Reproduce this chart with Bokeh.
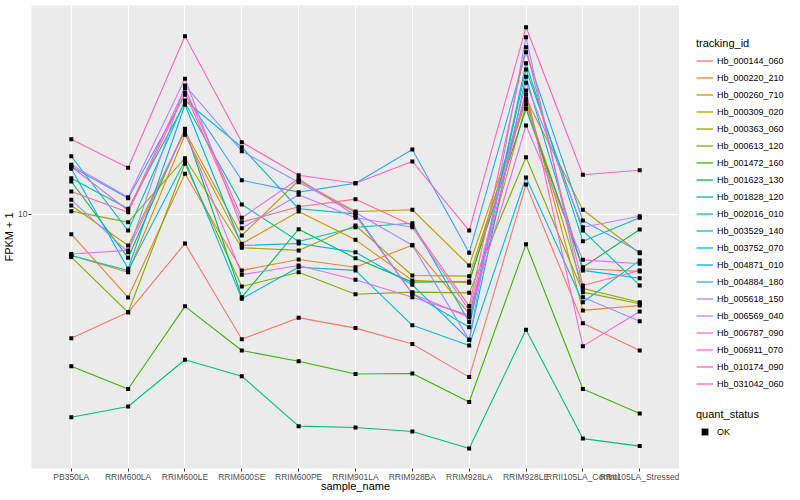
from bokeh.plotting import figure
from bokeh.layouts import row
from bokeh.models import (FactorRange, Range1d, FixedTicker, BasicTickFormatter,
                          Legend, LegendItem)
from bokeh.embed import file_html
from bokeh.resources import INLINE

samples = ["PB350LA", "RRIM600LA", "RRIM600LE", "RRIM600SE", "RRIM600PE",
           "RRIM901LA", "RRIM928BA", "RRIM928LA", "RRIM928LE",
           "RRII105LA_Control", "RRII105LA_Stressed"]

hb_000144_060 = [3.87, 4.72, 8.00, 3.84, 4.53, 4.18, 3.70, 2.87, 12.59, 4.34, 3.52]
hb_000220_210 = [8.60, 5.29, 13.67, 6.51, 7.08, 6.67, 7.90, 4.67, 23.26, 6.59, 6.46]
hb_000260_710 = [7.30, 6.42, 18.44, 7.99, 10.23, 8.23, 6.03, 5.92, 25.12, 4.79, 4.97]
hb_000309_020 = [10.72, 7.88, 18.91, 8.51, 12.98, 10.23, 10.37, 6.76, 24.30, 10.37, 7.43]
hb_000363_060 = [10.26, 9.43, 15.40, 7.75, 7.59, 9.19, 6.26, 6.23, 23.99, 5.67, 5.10]
hb_000613_120 = [7.21, 4.72, 14.76, 5.75, 6.42, 5.42, 5.51, 5.48, 15.52, 5.51, 5.04]
hb_001472_160 = [3.12, 2.62, 4.94, 3.52, 3.24, 2.94, 2.95, 2.37, 7.96, 2.62, 2.17]
hb_001623_130 = [12.88, 7.17, 19.31, 5.30, 8.93, 7.15, 5.95, 5.98, 22.51, 6.67, 8.91]
hb_001828_120 = [2.11, 2.29, 3.28, 2.89, 1.97, 1.95, 1.89, 1.66, 4.13, 1.79, 1.69]
hb_002016_010 = [13.21, 10.45, 23.57, 10.80, 8.13, 9.07, 9.35, 4.38, 30.44, 8.84, 5.80]
hb_003529_140 = [15.64, 8.84, 23.99, 16.76, 10.45, 10.05, 5.44, 4.21, 31.94, 8.15, 9.75]
hb_003752_070 = [7.30, 6.51, 15.14, 5.24, 6.67, 6.51, 4.27, 3.66, 13.28, 5.10, 7.03]
hb_004871_010 = [14.20, 6.59, 23.21, 7.88, 8.00, 7.49, 5.83, 3.82, 28.77, 6.51, 6.13]
hb_004884_180 = [14.45, 11.33, 25.06, 13.01, 11.87, 12.71, 16.47, 7.45, 34.75, 9.55, 7.49]
hb_005618_150 = [11.19, 7.49, 26.92, 16.26, 12.81, 10.15, 7.90, 3.82, 38.99, 5.30, 4.41]
hb_006569_040 = [14.64, 11.42, 28.34, 9.00, 11.63, 9.75, 9.07, 4.79, 27.48, 9.07, 9.87]
hb_006787_090 = [7.38, 7.59, 19.13, 6.30, 6.76, 6.06, 5.30, 4.61, 19.80, 7.06, 6.85]
hb_006911_070 = [14.45, 10.31, 26.36, 9.75, 13.15, 9.92, 5.44, 4.54, 25.90, 3.64, 4.75]
hb_010174_090 = [17.82, 14.31, 39.29, 17.42, 13.52, 12.71, 15.02, 8.84, 42.10, 13.56, 14.05]
hb_031042_060 = [11.93, 10.18, 25.45, 9.43, 10.61, 11.25, 9.19, 4.95, 36.12, 5.80, 6.51]

tracking_ids = ["Hb_000144_060", "Hb_000220_210", "Hb_000260_710", "Hb_000309_020",
                "Hb_000363_060", "Hb_000613_120", "Hb_001472_160", "Hb_001623_130",
                "Hb_001828_120", "Hb_002016_010", "Hb_003529_140", "Hb_003752_070",
                "Hb_004871_010", "Hb_004884_180", "Hb_005618_150", "Hb_006569_040",
                "Hb_006787_090", "Hb_006911_070", "Hb_010174_090", "Hb_031042_060"]

series_values = [hb_000144_060, hb_000220_210, hb_000260_710, hb_000309_020,
                 hb_000363_060, hb_000613_120, hb_001472_160, hb_001623_130,
                 hb_001828_120, hb_002016_010, hb_003529_140, hb_003752_070,
                 hb_004871_010, hb_004884_180, hb_005618_150, hb_006569_040,
                 hb_006787_090, hb_006911_070, hb_010174_090, hb_031042_060]

palette = ["#F8766D", "#EA8331", "#D89000", "#C09B00", "#A3A500", "#7CAE00",
           "#39B600", "#00BB4E", "#00BF7D", "#00C1A3", "#00BFC4", "#00BAE0",
           "#00B0F6", "#35A2FF", "#9590FF", "#C77CFF", "#E76BF3", "#FA62DB",
           "#FF62BC", "#FF6C91"]

quant_status = ["OK"]

FONT = "Liberation Sans"
H = 492

p = figure(x_range=FactorRange(factors=samples, range_padding=0.2,
                               range_padding_units="absolute"),
           y_axis_type="log", y_range=Range1d(1.4230, 49.74),
           frame_width=648, frame_height=463,
           output_backend="svg", toolbar_location=None,
           min_border_top=5, min_border_left=0, min_border_bottom=0,
           min_border_right=0,
           background_fill_color="#EBEBEB", border_fill_color="white")
p.outline_line_color = None

for vals, col in zip(series_values, palette):
    p.line(samples, vals, line_color=col, line_width=1.1)

for vals in series_values:
    p.scatter(samples, vals, marker="square", size=4, fill_color="black",
              line_color=None)

# grid
p.xgrid.grid_line_color = "white"
p.xgrid.grid_line_width = 1.2
p.ygrid.grid_line_color = "white"
p.ygrid.grid_line_width = 1.2
p.ygrid.minor_grid_line_color = None

# axes
p.yaxis.ticker = FixedTicker(ticks=[10], minor_ticks=[])
p.yaxis.formatter = BasicTickFormatter()
for ax in (p.xaxis[0], p.yaxis[0]):
    ax.axis_line_color = None
    ax.major_tick_line_color = "#333333"
    ax.major_tick_out = 3
    ax.major_tick_in = 0
    ax.minor_tick_line_color = None
    ax.major_label_text_font = FONT
    ax.major_label_text_font_size = "8.5px"
    ax.major_label_text_color = "#4D4D4D"
    ax.major_label_standoff = 1
    ax.axis_label_text_font = FONT
    ax.axis_label_text_font_size = "11px"
    ax.axis_label_text_font_style = "normal"
    ax.axis_label_text_color = "black"
p.xaxis.axis_label = "sample_name"
p.xaxis.axis_label_standoff = -5
p.xaxis.major_label_standoff = 0
p.yaxis.axis_label = "FPKM + 1"
p.yaxis.axis_label_standoff = 0
p.yaxis.major_label_orientation = "horizontal"

# legend panel as a separate figure (dummy renderers sit outside its ranges)
lf = figure(width=110, height=H, x_range=Range1d(0, 1), y_range=Range1d(0, 1),
            output_backend="svg", toolbar_location=None,
            x_axis_location=None, y_axis_location=None,
            min_border_top=0, min_border_left=0, min_border_bottom=0,
            min_border_right=0, background_fill_color="white",
            border_fill_color="white")
lf.outline_line_color = None
lf.grid.visible = False

line_items = []
for sid, col in zip(tracking_ids, palette):
    r = lf.line([5, 6], [5, 6], line_color=col, line_width=1.3)
    line_items.append(LegendItem(label=sid, renderers=[r]))
ok_r = lf.scatter([5], [5], marker="square", size=4, fill_color="black",
                  line_color=None)

leg_style = dict(title_text_font=FONT, title_text_font_size="11px",
                 title_text_font_style="normal", title_text_color="black",
                 label_text_font=FONT, label_text_font_size="9px",
                 label_text_color="black",
                 glyph_width=17, glyph_height=17, label_height=17,
                 spacing=0, padding=0, margin=0, label_standoff=4,
                 title_standoff=3, border_line_color=None,
                 background_fill_alpha=0)

leg1 = Legend(items=line_items, title="tracking_id", location=(17, 74), **leg_style)
leg2 = Legend(items=[LegendItem(label=quant_status[0], renderers=[ok_r])],
              title="quant_status", location=(17, 26), **leg_style)
lf.add_layout(leg1)
lf.add_layout(leg2)

layout = row(p, lf)
open("out.html", "w").write(file_html(layout, INLINE))
